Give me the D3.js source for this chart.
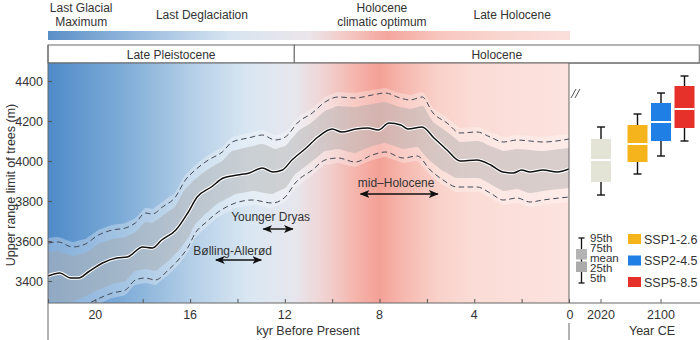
<!DOCTYPE html>
<html><head><meta charset="utf-8">
<script src="https://cdn.jsdelivr.net/npm/d3@7"></script>
<style>body{margin:0;background:#fff}svg{display:block;font-family:"Liberation Sans",Arial,sans-serif}</style>
</head><body><svg id="c" width="700" height="340"></svg>
<script>
// ---- data ----
const meanKyr = [22.0,21.5,21.05,20.7,20.3,19.7,19.1,18.65,18.0,17.6,17.2,16.6,16.1,15.7,15.1,14.6,14.0,13.5,12.95,12.5,12.1,11.7,11.1,10.6,10.0,9.6,9.0,8.5,8.05,7.6,7.1,6.8,6.2,5.7,5.15,4.6,3.9,3.3,2.8,2.35,2.0,1.65,1.1,0.5,0.0];
const meanVal = [3425,3440,3415,3415,3445,3490,3515,3520,3570,3565,3605,3655,3740,3820,3870,3915,3930,3940,3965,3945,3955,4005,4065,4120,4160,4145,4160,4165,4155,4190,4180,4160,4170,4115,4055,4000,4005,3980,3945,3940,3955,3945,3955,3945,3960];
const upperKyr = [22.0,21.56,20.97,20.42,19.87,19.28,18.73,18.31,17.89,17.59,17.17,16.62,16.2,15.78,15.23,14.64,14.22,13.54,12.95,12.41,11.98,11.43,10.84,10.3,9.75,9.03,8.31,7.76,7.13,6.71,6.2,5.74,5.15,4.6,3.88,3.33,2.78,2.19,1.65,1.1,0.0];
const upperVal = [3590,3595,3570,3585,3630,3655,3665,3690,3740,3735,3770,3820,3905,3955,4005,4045,4095,4115,4130,4105,4120,4195,4240,4295,4320,4315,4330,4340,4315,4305,4320,4240,4190,4140,4145,4120,4095,4105,4100,4095,4110];
const lowerKyr = [22.0,21.0,20.5,19.99,19.28,18.73,18.31,17.89,17.47,16.92,16.5,16.08,15.78,15.36,14.81,14.09,13.38,12.53,11.98,11.56,10.84,10.3,9.75,9.03,8.31,7.76,7.0,6.41,5.86,5.32,4.73,3.88,3.33,2.78,2.19,1.65,1.1,0.0];
const lowerVal = [3255,3250,3275,3305,3340,3355,3405,3415,3405,3455,3505,3570,3640,3690,3745,3790,3805,3790,3820,3890,3955,4005,4015,3995,4030,4045,4015,4025,3955,3905,3870,3870,3840,3805,3815,3795,3805,3820];

const yTicks = [3400,3600,3800,4000,4200,4400];
const xTickLabels = [20,16,12,8,4,0];
const xMinorTicks = [22,20,18,16,14,12,10,8,6,4,2,0];

const boxLabels = ["2020","SSP1-2.6","SSP2-4.5","SSP5-8.5"];
const boxYear   = [2020,2100,2100,2100];
const boxP5     = [3830,3935,4025,4100];
const boxP25    = [3895,3995,4100,4165];
const boxMean   = [4005,4085,4195,4260];
const boxP75    = [4110,4180,4290,4375];
const boxP95    = [4170,4235,4340,4425];
const boxColors = ["#e4e4d6","#f5b31c","#1f7fe4","#e5312a"];
const yearTicks = [2020,2100];
const scenarios = ["SSP1-2.6","SSP2-4.5","SSP5-8.5"];

const periods = [
  {name:["Last Glacial","Maximum"], k:20.6},
  {name:["Last Deglaciation"], k:15.5},
  {name:["Holocene","climatic optimum"], k:7.9},
  {name:["Late Holocene"], k:2.4}
];
const epochs = [{name:"Late Pleistocene", from:22, to:11.6},{name:"Holocene", from:11.6, to:-5.5}];
const events = [
  {name:"Bølling-Allerød", from:14.95, to:12.95, ty:251, ay:260, tk:14.2},
  {name:"Younger Dryas", from:12.95, to:11.62, ty:217, ay:229, tk:12.6},
  {name:"mid–Holocene", from:8.84, to:5.5, ty:183, ay:194, tk:7.3}
];

// ---- layout ----
const svg = d3.select("#c");
const X0=48, X1=569, Y0=63, Y1=303;
const x = d3.scaleLinear().domain([22,0]).range([X0,X1]);
const y = d3.scaleLinear().domain([3290,4490]).range([Y1,Y0]);
const yr = d3.scaleLinear().domain([2020,2100]).range([601,661]);
const sc = d3.scalePoint().domain(scenarios).range([-23.5,23.5]);
const txt = "#333";

const defs = svg.append("defs");
function grad(id, stops){
  const g = defs.append("linearGradient").attr("id",id).attr("x1","0%").attr("x2","100%").attr("y1","0%").attr("y2","0%");
  stops.forEach(s=>g.append("stop").attr("offset",s[0]).attr("stop-color",s[1]));
}
const off = k => ((x(k)-X0)/(X1-X0)*100).toFixed(1)+"%";
grad("bg", [[off(22),"#4f8bc9"],[off(19),"#7baad7"],[off(16),"#b3cee7"],[off(13.5),"#d9e7f2"],[off(11.6),"#e7e7ee"],[off(10.3),"#f1d2d1"],[off(9),"#f5b4ab"],[off(8),"#f4a196"],[off(7),"#f6b8ae"],[off(5.5),"#f9d2ca"],[off(4),"#fbdcd6"],[off(0),"#fce3df"]]);
grad("top", [["0%","#5a8fc7"],["20%","#a2c1e1"],["35%","#d8e5f1"],["50%","#ebe5ea"],["58%","#f4c5c0"],["65%","#f4a69d"],["75%","#f7c6be"],["87%","#f9d6d0"],["100%","#fbdedb"]]);
defs.append("clipPath").attr("id","clip").append("rect").attr("x",X0).attr("y",Y0).attr("width",X1-X0).attr("height",Y1-Y0);

// period labels + top gradient band
periods.forEach(p=>{
  const t = svg.append("text").attr("x",x(p.k)).attr("text-anchor","middle").attr("font-size",12).attr("fill",txt);
  if(p.name.length===2){
    t.append("tspan").attr("x",x(p.k)).attr("y",12).text(p.name[0]);
    t.append("tspan").attr("x",x(p.k)).attr("y",26).text(p.name[1]);
  } else t.attr("y",19).text(p.name[0]);
});
svg.append("rect").attr("x",X0).attr("y",31).attr("width",X1-X0+1).attr("height",9).attr("fill","url(#top)");

// epoch boxes
epochs.forEach(e=>{
  svg.append("rect").attr("x",x(e.from)).attr("y",45).attr("width",x(e.to)-x(e.from)).attr("height",18)
    .attr("fill","#fff").attr("stroke","#666").attr("stroke-width",1);
  svg.append("text").attr("x",(x(e.from)+Math.min(x(e.to),700))/2).attr("y",58.5).attr("text-anchor","middle")
    .attr("font-size",12).attr("fill",txt).text(e.name);
});

// main background
svg.append("rect").attr("x",X0).attr("y",Y0).attr("width",X1-X0).attr("height",Y1-Y0).attr("fill","url(#bg)");

const g = svg.append("g").attr("clip-path","url(#clip)");
const ui = d3.scaleLinear().domain(upperKyr).range(upperVal);
const li = d3.scaleLinear().domain(lowerKyr).range(lowerVal);
const areaOuter = d3.area().curve(d3.curveMonotoneX)
  .x(d=>x(d)).y0(d=>y(li(d))+5).y1(d=>y(ui(d))-5);
const areaInner = d3.area().curve(d3.curveMonotoneX)
  .x(d=>x(d)).y0(d=>y(li(d))-9).y1(d=>y(ui(d))+9);
const allK = Array.from(new Set([...upperKyr,...lowerKyr,...meanKyr])).sort((a,b)=>b-a);
g.append("path").datum(allK).attr("d",areaOuter).attr("fill","#ffffff").attr("opacity",0.3);
g.append("path").datum(allK).attr("d",areaInner).attr("fill","#a3a3a3").attr("opacity",0.4);

const line = d3.line().curve(d3.curveMonotoneX).x(d=>x(d[0])).y(d=>y(d[1]));
g.append("path").datum(upperKyr.map((k,i)=>[k,upperVal[i]])).attr("d",line).attr("fill","none")
  .attr("stroke","#454b57").attr("stroke-width",1).attr("stroke-dasharray","5.5,3.5");
g.append("path").datum(lowerKyr.map((k,i)=>[k,lowerVal[i]])).attr("d",line).attr("fill","none")
  .attr("stroke","#454b57").attr("stroke-width",1).attr("stroke-dasharray","5.5,3.5");
const meanData = meanKyr.map((k,i)=>[k,meanVal[i]]);
g.append("path").datum(meanData).attr("d",line).attr("fill","none").attr("stroke","#fff").attr("stroke-width",3.6);
g.append("path").datum(meanData).attr("d",line).attr("fill","none").attr("stroke","#111").attr("stroke-width",1.5);

// events
defs.append("marker").attr("id","ah").attr("viewBox","0 0 10 10").attr("refX",9).attr("refY",5)
  .attr("markerWidth",7).attr("markerHeight",7).attr("orient","auto-start-reverse")
  .append("path").attr("d","M0,1 L10,5 L0,9 L2.5,5 Z").attr("fill","#111");
events.forEach(e=>{
  svg.append("text").attr("x",x(e.tk)).attr("y",e.ty+4).attr("text-anchor","middle").attr("font-size",12).attr("fill",txt).text(e.name);
  svg.append("line").attr("x1",x(e.from)+1).attr("x2",x(e.to)-1).attr("y1",e.ay).attr("y2",e.ay)
    .attr("stroke","#111").attr("stroke-width",1.4).attr("marker-start","url(#ah)").attr("marker-end","url(#ah)");
});

// axes
const ax = svg.append("g").attr("transform",`translate(0,${Y1})`)
  .call(d3.axisBottom(x).tickValues(xMinorTicks).tickSize(-4).tickFormat(""));
ax.select(".domain").remove();
ax.selectAll("line").attr("stroke","#555");
xTickLabels.forEach(k=>svg.append("text").attr("x",x(k)+(k===0?1:0)).attr("y",319).attr("text-anchor","middle").attr("font-size",12.5).attr("fill",txt).text(k));
svg.append("text").attr("x",308).attr("y",335).attr("text-anchor","middle").attr("font-size",12.5).attr("fill",txt).text("kyr Before Present");

const ay = svg.append("g").attr("transform",`translate(${X0},0)`)
  .call(d3.axisLeft(y).tickValues(yTicks).tickSize(-4).tickFormat(""));
ay.select(".domain").remove();
ay.selectAll("line").attr("stroke","#555");
yTicks.forEach(v=>svg.append("text").attr("x",43).attr("y",y(v)+4.5).attr("text-anchor","end").attr("font-size",12.5).attr("fill",txt).text(v));
svg.append("text").attr("transform",`translate(15,${(Y0+Y1)/2+2}) rotate(-90)`).attr("text-anchor","middle")
  .attr("font-size",12.5).attr("fill",txt).text("Upper range limit of trees (m)");

// frame lines
const fl = (x1,y1,x2,y2)=>svg.append("line").attr("x1",x1).attr("y1",y1).attr("x2",x2).attr("y2",y2).attr("stroke","#666").attr("stroke-width",1);
fl(X0,Y0,700,Y0); fl(X0,Y1,700,Y1); fl(X0,45,X0,340); fl(X1,Y0,X1,Y1); fl(X1,323,X1,340);

// break mark
[0,4].forEach(d=>svg.append("line").attr("x1",571+d).attr("y1",98).attr("x2",576+d).attr("y2",89).attr("stroke","#555").attr("stroke-width",1));

// right panel ticks + labels
yearTicks.forEach(t=>{
  fl(yr(t),Y1,yr(t),Y1-4);
  svg.append("text").attr("x",yr(t)).attr("y",319).attr("text-anchor","middle").attr("font-size",12.5).attr("fill",txt).text(t);
});
svg.append("text").attr("x",652).attr("y",335).attr("text-anchor","middle").attr("font-size",12.5).attr("fill",txt).text("Year CE");

// boxplots
boxLabels.forEach((lab,i)=>{
  const cx = yr(boxYear[i]) + (scenarios.includes(lab)? sc(lab):0);
  const w = 20, cw = 8;
  const bg = svg.append("g");
  bg.append("line").attr("x1",cx).attr("x2",cx).attr("y1",y(boxP95[i])).attr("y2",y(boxP5[i])).attr("stroke","#111").attr("stroke-width",1.4);
  [boxP95[i],boxP5[i]].forEach(v=>bg.append("line").attr("x1",cx-cw/2).attr("x2",cx+cw/2).attr("y1",y(v)).attr("y2",y(v)).attr("stroke","#111").attr("stroke-width",1.4));
  bg.append("rect").attr("x",cx-w/2).attr("y",y(boxP75[i])).attr("width",w).attr("height",y(boxP25[i])-y(boxP75[i])).attr("fill",boxColors[i]);
  bg.append("line").attr("x1",cx-w/2).attr("x2",cx+w/2).attr("y1",y(boxMean[i])).attr("y2",y(boxMean[i])).attr("stroke","#fff").attr("stroke-width",2);
});

// legend: statistics
const lg = svg.append("g");
lg.append("line").attr("x1",581.5).attr("x2",581.5).attr("y1",238).attr("y2",283).attr("stroke","#111").attr("stroke-width",1.3);
[238,283].forEach(v=>lg.append("line").attr("x1",578.5).attr("x2",584.5).attr("y1",v).attr("y2",v).attr("stroke","#111").attr("stroke-width",1.3));
lg.append("rect").attr("x",576).attr("y",249).attr("width",11).attr("height",10.5).attr("fill","#b3b3b3");
lg.append("rect").attr("x",576).attr("y",261.5).attr("width",11).attr("height",10.5).attr("fill","#ababab");
const statLabels = ["95th","75th","mean","25th","5th"];
const statY = [242,252,261.5,271.5,281.5];
statLabels.forEach((s,i)=>lg.append("text").attr("x",590).attr("y",statY[i]).attr("font-size",11.5).attr("fill",txt).text(s));
// legend: scenarios
scenarios.forEach((s,i)=>{
  const yy = 234 + i*21.5;
  lg.append("rect").attr("x",628).attr("y",yy).attr("width",13).attr("height",10).attr("fill",boxColors[i+1]);
  lg.append("text").attr("x",644).attr("y",yy+9.5).attr("font-size",12.5).attr("fill",txt).text(s);
});
</script></body></html>
